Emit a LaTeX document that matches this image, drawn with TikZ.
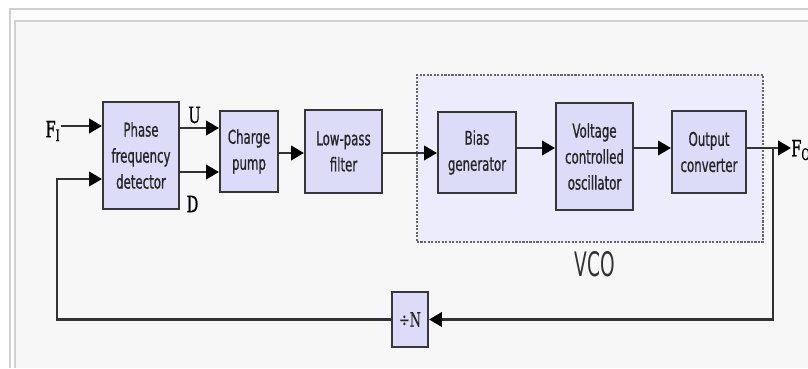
\documentclass[tikz,border=0pt]{standalone}
\usepackage{fontspec}
\usetikzlibrary{arrows.meta, positioning}
\definecolor{blockfill}{RGB}{220, 220, 248}
\definecolor{blockedge}{RGB}{55, 55, 55}
\definecolor{vcofill}{RGB}{236, 236, 252}
\definecolor{pagegray}{RGB}{247, 247, 247}
\definecolor{framegray}{RGB}{208, 208, 208}
\definecolor{wiregray}{RGB}{50, 50, 50}
\newfontfamily\blockfont[FakeStretch=0.62, FakeBold=0.8]{DejaVu Sans}
\newfontfamily\signalfont[FakeStretch=0.65, FakeBold=0.8]{DejaVu Serif}
\newfontfamily\groupfont[FakeStretch=0.55]{DejaVu Sans}

\begin{document}
\begin{tikzpicture}[x=0.025cm, y=-0.025cm,
  block/.style={draw=blockedge, line width=1.5pt, fill=blockfill, inner sep=0pt,
    align=center, text=black!85, font=\blockfont\fontsize{13.5}{18.5}\selectfont},
  wire/.style={wiregray, line width=1.7pt},
  arr/.style={wire, -{Triangle[length=0.32cm, width=0.36cm, color=black]}},
  signal/.style={inner sep=0pt, font=\signalfont\fontsize{16}{16}\selectfont}]
  \useasboundingbox (0,0) rectangle (808,368);

  % page frame
  \fill[white] (0,0) rectangle (808,368);
  \fill[pagegray!40!white] (10,9) rectangle (808,368);
  \fill[pagegray] (15,21) rectangle (808,368);
  \draw[framegray, line width=1pt] (10,368) -- (10,9) -- (808,9);
  \draw[framegray, line width=1pt] (15,368) -- (15,21) -- (808,21);

  % VCO group
  \node[draw=black!60, dash pattern=on 1.5pt off 1pt, line width=0.9pt, fill=vcofill,
    minimum width=8.65cm, minimum height=4.175cm, inner sep=0pt] (vcogroup) at (590,158.5) {};
  \node[font=\groupfont\fontsize{24}{24}\selectfont, text=black!80, inner sep=0pt] (vcolabel) at (595,264.5) {VCO};

  % blocks
  \node[block, minimum width=1.9cm, minimum height=2.675cm] (pfd) at (141,155.5) {Phase\\frequency\\detector};
  \node[block, minimum width=1.45cm, minimum height=2.025cm] (cp) at (249,151.5) {Charge\\pump};
  \node[block, minimum width=1.925cm, minimum height=2.075cm] (lpf) at (343.5,151.5) {Low-pass\\filter};
  \node[block, minimum width=1.95cm, minimum height=2.025cm] (bias) at (477,152.5) {Bias\\generator};
  \node[block, minimum width=1.925cm, minimum height=2.675cm] (vco) at (594.5,156.5) {Voltage\\controlled\\oscillator};
  \node[block, minimum width=1.85cm, minimum height=2.05cm] (outc) at (709,152) {Output\\converter};
  \node[block, font=\signalfont\fontsize{14}{14}\selectfont, minimum width=0.9cm, minimum height=1.375cm] (divn) at (410,319.5) {÷N};

  % signal labels
  \node[signal] (fi) at (53,131) {F\textsubscript{I}};
  \node[signal] (ulabel) at (194.5,115) {U};
  \node[signal] (dlabel) at (192.5,204) {D};
  \node[signal, anchor=west] (fo) at (791,150) {F\textsubscript{O}};

  % rows
  \coordinate (firow) at (0,126);
  \coordinate (urow) at (0,128);
  \coordinate (drow) at (0,172);
  \coordinate (lpfrow) at (0,153);
  \coordinate (vcorow) at (0,148);
  \coordinate (tap) at (773,148);
  \coordinate (fbcorner) at (57,179);

  % forward path
  \draw[arr] (fi.east |- firow) -- (pfd.west |- firow);
  \draw[arr] (pfd.east |- urow) -- (cp.west |- urow);
  \draw[arr] (pfd.east |- drow) -- (cp.west |- drow);
  \draw[arr] (cp.east |- lpfrow) -- (lpf.west |- lpfrow);
  \draw[arr] (lpf.east |- lpfrow) -- (bias.west |- lpfrow);
  \draw[arr] (bias.east |- vcorow) -- (vco.west |- vcorow);
  \draw[arr] (vco.east |- vcorow) -- (outc.west |- vcorow);
  \draw[arr] (outc.east |- tap) -- (fo.west |- tap);

  % feedback path
  \draw[arr] (tap) |- (divn.east);
  \draw[arr] (divn.west) -| (fbcorner) -- (pfd.west |- fbcorner);
\end{tikzpicture}
\end{document}
